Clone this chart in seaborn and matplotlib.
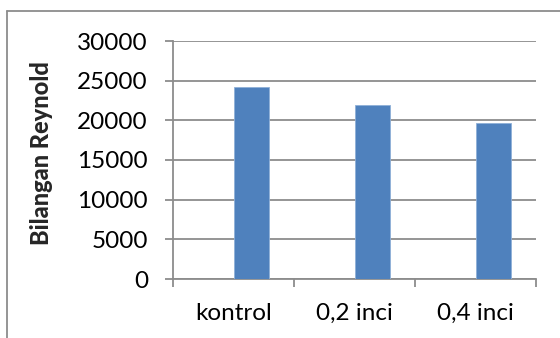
import matplotlib
matplotlib.use("Agg")
import matplotlib.pyplot as plt
from matplotlib.lines import Line2D
import pandas as pd
import seaborn as sns

# Data
categories = ["kontrol", "0,2 inci", "0,4 inci"]
reynolds = [24200, 21900, 19700]
series_names = ["", "Bilangan Reynold"]
y_ticks = [0, 5000, 10000, 15000, 20000, 25000, 30000]

sns.set_theme(style="white")
plt.rcParams["font.family"] = ["Lato", "DejaVu Sans"]

rows = []
for c, v in zip(categories, reynolds):
    rows.append({"kategori": c, "nilai": 0, "seri": series_names[0]})
    rows.append({"kategori": c, "nilai": v, "seri": series_names[1]})
df = pd.DataFrame(rows)

fig = plt.figure(figsize=(5.6, 3.38), dpi=100)
ax = fig.add_axes([173 / 560, 1 - 279 / 338, (536 - 173) / 560, (279 - 41) / 338])

grid_c = "#8c8c8c"
bar_c = "#4f81bd"

sns.barplot(data=df, x="kategori", y="nilai", hue="seri", hue_order=series_names,
            palette=[bar_c, bar_c], saturation=1, width=0.58, dodge=True, legend=False,
            errorbar=None, edgecolor="#8fb0d8", linewidth=0.6, ax=ax, zorder=3)

ax.set_xlim(-0.5, 2.5)
ax.set_ylim(0, 30000)
ax.set_yticks(y_ticks)
ax.set_yticklabels([str(t) for t in y_ticks])
ax.yaxis.grid(True, color=grid_c, linewidth=1.3)
ax.set_axisbelow(True)

for s in ["top", "right"]:
    ax.spines[s].set_visible(False)
for s in ["left", "bottom"]:
    ax.spines[s].set_color(grid_c)
    ax.spines[s].set_linewidth(1.3)

ax.tick_params(axis="y", which="major", length=6, width=1.3, color=grid_c,
               labelsize=17.5, pad=12, left=True)
ax.tick_params(axis="x", which="major", length=0, labelsize=17.5, pad=17)
ax.set_xticks([-0.5, 0.5, 1.5, 2.5], minor=True)
ax.tick_params(axis="x", which="minor", length=6, width=1.3, color=grid_c, bottom=True)

ax.set_xlabel("")
ax.set_ylabel("Bilangan Reynold", fontsize=17, fontweight="black")
ax.yaxis.set_label_coords(-0.33, 0.53)
for lab in ax.get_yticklabels() + ax.get_xticklabels():
    lab.set_color("black")

# Outer chart border
x0, y0 = 7 / 560, 1 - 11 / 338
fig.add_artist(Line2D([x0, 1.0], [y0, y0], color=grid_c, linewidth=1.3, transform=fig.transFigure))
fig.add_artist(Line2D([x0, x0], [y0, 0.0], color=grid_c, linewidth=1.3, transform=fig.transFigure))

fig.savefig("out.png", dpi=100)
